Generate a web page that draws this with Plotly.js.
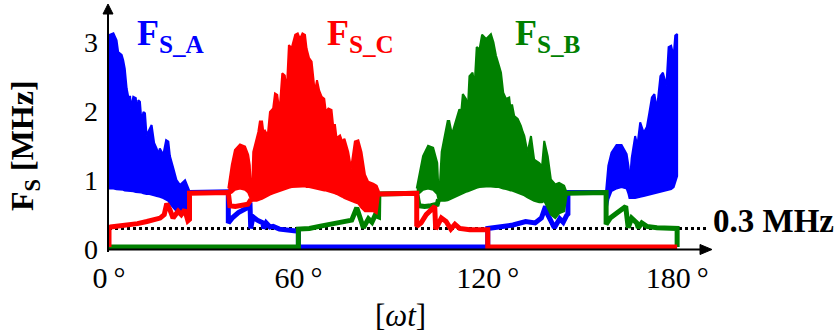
<!DOCTYPE html>
<html><head><meta charset="utf-8">
<script src="https://cdn.plot.ly/plotly-3.0.1.min.js"></script>
<style>html,body{margin:0;padding:0;background:#fff}#chart{width:839px;height:333px}</style>
</head><body><div id="chart"></div>
<script>
// ---------------- data ----------------
const xTickVals = [0, 60, 120, 180];
const xTickText = ['0\u2009°', '60\u2009°', '120\u2009°', '180\u2009°'];
const yTickVals = [0, 1, 2, 3];
const yTickText = ['0', '1', '2', '3'];
const thresholdMHz = 0.3;
const seriesNames = ['F<sub>S_A</sub>', 'F<sub>S_B</sub>', 'F<sub>S_C</sub>'];

// F_S_A (blue): thin part
const aLineX = [25.4, 37.8, 37.8, 39, 41, 43, 44.7, 44.9, 45.6, 47, 48.8, 49.0, 49.8, 51, 52, 54, 57, 60, 60, 120, 120, 124, 128, 132, 135, 137, 138.3, 139, 140, 141.1, 142.8, 143.9, 145, 145.4, 145.4, 157.5];
const aLineY = [0.82, 0.83, 0.38, 0.45, 0.53, 0.58, 0.62, 0.30, 0.47, 0.42, 0.38, 0.30, 0.38, 0.32, 0.33, 0.29, 0.27, 0.26, 0.03, 0.03, 0.30, 0.32, 0.35, 0.40, 0.38, 0.45, 0.62, 0.50, 0.42, 0.31, 0.44, 0.39, 0.49, 0.51, 0.82, 0.82];
// F_S_A (blue): switching band 0-25 deg
const aBand1X  = [0, 0.3, 1.4, 2.4, 2.9, 4.0, 4.5, 5.0, 5.6, 6.1, 6.7, 6.9, 7.7, 8.5, 8.8, 9.3, 9.8, 10.3, 10.9, 11.4, 11.9, 12.8, 13.5, 14.3, 15.1, 15.6, 16.1, 17.2, 18.1, 18.8, 19.3, 20.4, 21.4, 22.5, 24.1, 25.4];
const aBand1Hi = [2.95, 3.11, 3.13, 3.03, 2.86, 2.82, 2.74, 2.62, 2.33, 2.21, 2.21, 2.04, 2.21, 2.19, 1.97, 2.16, 2.14, 1.85, 1.99, 1.97, 1.65, 1.75, 1.80, 1.54, 1.46, 1.38, 1.46, 1.37, 1.58, 1.56, 1.35, 1.17, 1.00, 0.93, 1.00, 0.85];
const aBand1Lo = [0.88, 0.88, 0.88, 0.87, 0.87, 0.86, 0.86, 0.85, 0.85, 0.85, 0.84, 0.84, 0.84, 0.83, 0.83, 0.83, 0.82, 0.82, 0.81, 0.81, 0.80, 0.80, 0.79, 0.78, 0.77, 0.76, 0.76, 0.74, 0.72, 0.70, 0.66, 0.60, 0.55, 0.52, 0.55, 0.60];
// F_S_A (blue): switching band 157-180 deg
const aBand2X  = [157.5, 157.8, 158.2, 159.2, 160.8, 162.4, 164.0, 164.6, 164.9, 165.6, 166.7, 167.4, 168.3, 169.4, 170.4, 171.2, 172.0, 172.8, 173.6, 174.7, 175.5, 176.6, 177.3, 178.1, 178.9, 179.4, 180];
const aBand2Hi = [0.85, 1.05, 1.21, 1.40, 1.51, 1.51, 1.38, 1.20, 0.92, 1.32, 1.64, 1.50, 1.84, 1.69, 1.77, 1.98, 2.20, 2.25, 2.03, 2.51, 2.56, 2.37, 2.93, 2.95, 2.80, 3.10, 3.12];
const aBand2Lo = [0.60, 0.62, 0.72, 0.84, 0.88, 0.90, 0.88, 0.80, 0.74, 0.74, 0.74, 0.75, 0.76, 0.77, 0.78, 0.79, 0.80, 0.81, 0.82, 0.83, 0.84, 0.85, 0.86, 0.87, 0.90, 0.98, 1.06];

// F_S_B (green): thin part
const bLineX = [0, 60, 60, 63.5, 66.6, 69.8, 73, 74.8, 76.9, 78.5, 79.6, 80.6, 82.2, 83.3, 84.3, 85.4, 85.5, 97.5, 98.2, 100, 102, 104.0, 104.4, null, 145, 157.5, 157.5, 158.8, 160.8, 163.7, 164.5, 165.6, 167.2, 167.7, 168.8, 170.4, 173.6, 176.8, 180, 180];
const bLineY = [0.03, 0.03, 0.29, 0.30, 0.33, 0.36, 0.40, 0.40, 0.42, 0.60, 0.42, 0.31, 0.44, 0.39, 0.49, 0.47, 0.80, 0.81, 0.63, 0.62, 0.63, 0.65, 0.72, null, 0.81, 0.82, 0.36, 0.45, 0.52, 0.62, 0.31, 0.45, 0.38, 0.31, 0.38, 0.33, 0.31, 0.30, 0.30, 0.03];
// F_S_B (green): switching band 97-145 deg
const bBandX  = [97.5, 98.5, 99.5, 101.1, 102.7, 104.0, 104.4, 104.7, 105.4, 106.4, 107.3, 107.8, 108.5, 109.0, 110.3, 111.0, 111.6, 112.1, 113.1, 113.7, 114.2, 115.2, 115.8, 116.5, 117.4, 118.2, 119.5, 121.0, 121.8, 122.6, 123.5, 124.2, 124.9, 125.8, 126.8, 127.3, 127.7, 128.4, 129.5, 130.5, 131.1, 131.6, 132.6, 133.7, 134.7, 136.3, 137.2, 137.9, 139.0, 140.0, 141.4, 142.6, 144.2, 145.0];
const bBandHi = [0.88, 1.10, 1.35, 1.50, 1.47, 1.25, 0.83, 0.83, 1.41, 1.65, 1.86, 1.86, 1.70, 1.72, 1.93, 2.03, 1.99, 2.25, 2.18, 2.05, 2.51, 2.56, 2.35, 2.93, 2.90, 3.11, 3.05, 3.12, 3.00, 2.81, 2.67, 2.56, 2.27, 2.18, 2.20, 2.00, 2.10, 1.93, 1.89, 1.79, 1.70, 1.64, 1.40, 1.64, 1.30, 1.25, 1.20, 1.57, 1.35, 1.01, 0.94, 0.96, 0.92, 0.82];
const bBandLo = [0.80, 0.82, 0.86, 0.88, 0.86, 0.80, 0.72, 0.70, 0.70, 0.70, 0.71, 0.72, 0.73, 0.74, 0.77, 0.79, 0.80, 0.81, 0.83, 0.84, 0.85, 0.87, 0.88, 0.89, 0.90, 0.91, 0.91, 0.91, 0.91, 0.90, 0.90, 0.89, 0.88, 0.87, 0.86, 0.85, 0.85, 0.84, 0.82, 0.80, 0.79, 0.78, 0.75, 0.72, 0.70, 0.68, 0.68, 0.70, 0.60, 0.50, 0.45, 0.52, 0.55, 0.78];

// F_S_C (red): thin part
const cLineX = [0, 0, 0.5, 3, 6, 9, 12, 14, 16.2, 17.5, 18.3, 19.3, 20.3, 21.9, 22.9, 24.0, 25.0, 25.5, 25.5, 37.8, 38.3, 40, 42, 44, 45.0, null, 85.5, 97.5, 97.5, 98.9, 100.5, 102, 103.2, 103.5, 105.3, 106.8, 108, 108.3, 109.6, 111.1, 114.3, 117, 120, 120, 180];
const cLineY = [0.03, 0.31, 0.32, 0.33, 0.35, 0.37, 0.40, 0.42, 0.45, 0.50, 0.66, 0.57, 0.45, 0.55, 0.50, 0.57, 0.41, 0.43, 0.81, 0.82, 0.63, 0.62, 0.63, 0.65, 0.72, null, 0.80, 0.81, 0.33, 0.38, 0.50, 0.57, 0.62, 0.29, 0.45, 0.40, 0.33, 0.29, 0.36, 0.30, 0.28, 0.28, 0.28, 0.03, 0.03];
// F_S_C (red): switching band 38-85 deg
const cBandX  = [37.8, 38.9, 39.9, 41.5, 43.1, 44.1, 44.6, 45.0, 45.3, 45.7, 46.8, 47.3, 47.8, 48.5, 48.9, 49.4, 50.3, 51.0, 52.0, 52.6, 53.3, 54.0, 54.9, 55.7, 56.3, 57.0, 57.9, 59.0, 59.8, 60.5, 61.3, 62.1, 62.6, 63.4, 64.2, 64.7, 65.2, 65.9, 66.6, 67.4, 68.2, 68.7, 69.5, 70.5, 71.0, 71.6, 72.1, 73.2, 73.9, 74.6, 75.8, 76.7, 77.9, 79.0, 80.0, 81.1, 82.1, 83.7, 84.8, 85.5];
const cBandHi = [0.88, 1.22, 1.44, 1.52, 1.49, 1.37, 1.22, 0.83, 0.83, 1.41, 1.61, 1.70, 1.85, 1.85, 1.70, 1.72, 1.65, 1.99, 2.04, 2.26, 2.24, 1.99, 2.55, 2.52, 2.28, 2.96, 2.92, 3.11, 3.13, 3.05, 3.13, 3.11, 2.91, 2.77, 2.72, 2.53, 2.28, 2.45, 2.30, 2.21, 2.18, 1.99, 2.04, 2.02, 1.80, 1.80, 1.61, 1.65, 1.56, 1.60, 1.41, 1.17, 1.56, 1.58, 1.41, 1.08, 0.98, 0.95, 0.92, 0.84];
const cBandLo = [0.80, 0.82, 0.86, 0.88, 0.86, 0.82, 0.78, 0.72, 0.70, 0.70, 0.70, 0.71, 0.72, 0.73, 0.74, 0.75, 0.77, 0.79, 0.81, 0.83, 0.84, 0.85, 0.86, 0.87, 0.88, 0.89, 0.90, 0.91, 0.91, 0.91, 0.91, 0.91, 0.90, 0.90, 0.89, 0.89, 0.88, 0.88, 0.87, 0.86, 0.85, 0.85, 0.84, 0.83, 0.82, 0.81, 0.80, 0.78, 0.76, 0.74, 0.72, 0.70, 0.68, 0.66, 0.60, 0.55, 0.55, 0.55, 0.52, 0.78];

// ---------------- layout geometry ----------------
const W = 839, H = 333, ML = 109, MR = 124, MT = 1, MB = 77;
const PW = W - ML - MR, PH = H - MT - MB;
const xp = px => (px - ML) / PW;
const yp = py => (H - MB - py) / PH;

const BLUE = '#0000FF', GREEN = '#008000', RED = '#FF0000';
const SERIF = 'Liberation Serif';

function lineTrace(x, y, color) {
  return {type: 'scatter', mode: 'lines', x: x, y: y, connectgaps: false,
          line: {color: color, width: 5}, hoverinfo: 'skip', showlegend: false};
}
function bandTrace(x, hi, lo, color) {
  return {type: 'scatter', mode: 'lines',
          x: x.concat(x.slice().reverse()),
          y: hi.concat(lo.slice().reverse()),
          fill: 'toself', fillcolor: color,
          line: {color: color, width: 2}, hoverinfo: 'skip', showlegend: false};
}

const traces = [
  lineTrace(aLineX, aLineY, BLUE),
  bandTrace(aBand1X, aBand1Hi, aBand1Lo, BLUE),
  bandTrace(aBand2X, aBand2Hi, aBand2Lo, BLUE),
  lineTrace(bLineX, bLineY, GREEN),
  bandTrace(bBandX, bBandHi, bBandLo, GREEN),
  lineTrace(cLineX, cLineY, RED),
  bandTrace(cBandX, cBandHi, cBandLo, RED)
];

function label(px, py, text, size, color, extra) {
  return Object.assign({xref: 'paper', yref: 'paper', x: xp(px), y: yp(py),
    xanchor: 'center', yanchor: 'middle', text: text, showarrow: false,
    font: {family: SERIF, size: size, color: color}}, extra || {});
}

const layout = {
  width: W, height: H,
  margin: {l: ML, r: MR, t: MT, b: MB, pad: 0},
  paper_bgcolor: '#fff', plot_bgcolor: '#fff',
  font: {family: SERIF, color: '#000'},
  showlegend: false, hovermode: false,
  xaxis: {range: [0, 192], showgrid: false, zeroline: false, showline: false,
          ticks: '', tickvals: xTickVals, ticktext: xTickText,
          tickfont: {family: SERIF, size: 30, color: '#000'}, ticklabelstandoff: 1, fixedrange: true},
  yaxis: {range: [-0.1, 3.6], showgrid: false, zeroline: false, showline: false,
          ticks: '', tickvals: yTickVals, ticktext: yTickText,
          tickfont: {family: SERIF, size: 28, color: '#000'}, ticklabelstandoff: 10, fixedrange: true},
  shapes: [
    {type: 'line', xref: 'paper', yref: 'y', x0: 0, x1: xp(708), y0: thresholdMHz, y1: thresholdMHz,
     line: {color: '#000', width: 3, dash: 'dot'}, layer: 'below'},
    {type: 'line', xref: 'paper', yref: 'paper', x0: xp(107), x1: xp(702), y0: yp(249.5), y1: yp(249.5),
     line: {color: '#000', width: 2}, layer: 'above'},
    {type: 'path', xref: 'paper', yref: 'paper',
     path: `M ${xp(700)},${yp(244.5)} L ${xp(712)},${yp(249.5)} L ${xp(700)},${yp(254.5)} Z`,
     fillcolor: '#000', line: {color: '#000', width: 1}, layer: 'above'},
    {type: 'line', xref: 'paper', yref: 'paper', x0: xp(108), x1: xp(108), y0: yp(252), y1: yp(12),
     line: {color: '#000', width: 2}, layer: 'above'},
    {type: 'path', xref: 'paper', yref: 'paper',
     path: `M ${xp(103)},${yp(14)} L ${xp(108)},${yp(4)} L ${xp(113)},${yp(14)} Z`,
     fillcolor: '#000', line: {color: '#000', width: 1}, layer: 'above'}
  ],
  annotations: [
    label(170, 36, '<b>' + seriesNames[0] + '</b>', 36, BLUE),
    label(360, 36, '<b>' + seriesNames[2] + '</b>', 36, RED),
    label(548, 36, '<b>' + seriesNames[1] + '</b>', 36, GREEN),
    label(711, 221, '<b>' + thresholdMHz.toFixed(1) + ' MHz</b>', 33, '#000', {xanchor: 'left'}),
    label(400, 315, '[<i>ωt</i>]', 31, '#000'),
    label(24, 146, '<b>F<sub>S</sub> [MHz]</b>', 32, '#000', {textangle: -90})
  ]
};

Plotly.newPlot('chart', traces, layout, {staticPlot: true, displayModeBar: false});
</script></body></html>
